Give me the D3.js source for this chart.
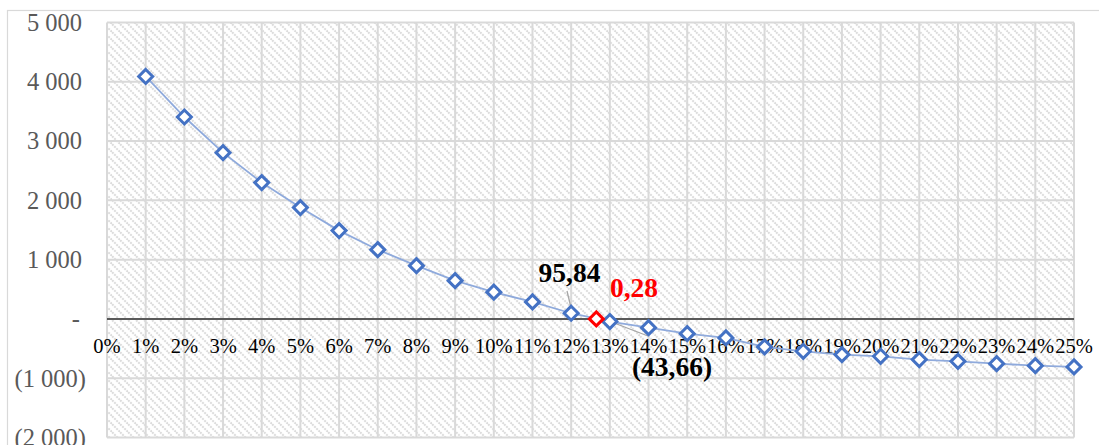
<!DOCTYPE html>
<html>
<head>
<meta charset="utf-8">
<script src="https://cdn.jsdelivr.net/npm/d3@7"></script>
<style>
  html, body { margin: 0; padding: 0; background: #fff; }
  svg { display: block; }
</style>
</head>
<body>
<svg id="chart" width="1099" height="445"></svg>
<script>
// ---- data ----
const rates = [1,2,3,4,5,6,7,8,9,10,11,12,13,14,15,16,17,18,19,20,21,22,23,24,25]; // %
const npv = [4090, 3406, 2805, 2300, 1878, 1490, 1168, 899, 646, 452, 287, 95.84, -43.66,
             -147, -248, -320, -472, -546, -602, -630, -686, -715, -754, -788, -809];
const irrPoint = [12.65, 0.28];
const xTickLabels = d3.range(0, 26).map(d => d + "%");
const yTicks = [5000, 4000, 3000, 2000, 1000, 0, -1000, -2000];
const labels = [
  {text: "95,84", color: "#000000"},
  {text: "(43,66)", color: "#000000"},
  {text: "0,28", color: "#FF0000"}
];

// ---- layout ----
const svg = d3.select("#chart");
const L = 107, R = 1074, T = 22.5, B = 437.5;
const x = d3.scaleLinear().domain([0, 25]).range([L, R]);
const y = d3.scaleLinear().domain([-2000, 5000]).range([B, T]);

// outer chart border
svg.append("rect").attr("x", 7.5).attr("y", 10.5).attr("width", 1200).attr("height", 600)
  .attr("fill", "#fff").attr("stroke", "#d9d9d9").attr("stroke-width", 1.2);

// hatch pattern
const defs = svg.append("defs");
const pat = defs.append("pattern").attr("id", "hatch").attr("patternUnits", "userSpaceOnUse")
  .attr("width", 8).attr("height", 8);
pat.append("rect").attr("width", 8).attr("height", 8).attr("fill", "#fff");
pat.append("path").attr("d", "M-2,-2 L10,10 M-2,6 L2,10 M6,-2 L10,2")
  .attr("stroke", "#dcdcdc").attr("stroke-width", 2).attr("stroke-dasharray", "2,1");

svg.append("rect").attr("x", L).attr("y", T).attr("width", R - L).attr("height", B - T)
  .attr("fill", "url(#hatch)");

// gridlines
const grid = svg.append("g");
grid.selectAll("line.v").data(d3.range(0, 26)).join("line")
  .attr("x1", d => x(d)).attr("x2", d => x(d)).attr("y1", T).attr("y2", B)
  .attr("stroke", "#d9d9d9").attr("stroke-width", 2);
grid.selectAll("line.h").data(yTicks).join("line")
  .attr("x1", L).attr("x2", R).attr("y1", d => y(d)).attr("y2", d => y(d))
  .attr("stroke", "#d9d9d9").attr("stroke-width", 2);

// zero line
svg.append("line").attr("x1", L).attr("x2", R).attr("y1", y(0)).attr("y2", y(0))
  .attr("stroke", "#595959").attr("stroke-width", 2);

// y axis labels
const fmtY = v => {
  if (v === 0) return "-";
  const s = d3.format(",")(Math.abs(v)).replace(/,/g, " ");
  return v < 0 ? "(" + s + ")" : s;
};
svg.append("g").selectAll("text").data(yTicks).join("text")
  .attr("x", d => d < 0 ? 86 : (d === 0 ? 80 : 82))
  .attr("y", d => y(d))
  .attr("dy", "0.34em")
  .attr("text-anchor", "end")
  .attr("font-family", "'Liberation Serif', 'Times New Roman', serif")
  .attr("font-size", 24.5)
  .attr("fill", "#595959")
  .text(fmtY);

// x axis labels
svg.append("g").selectAll("text").data(xTickLabels).join("text")
  .attr("x", (d, i) => x(i))
  .attr("y", 352.5)
  .attr("text-anchor", "middle")
  .attr("font-family", "'Liberation Serif', 'Times New Roman', serif")
  .attr("font-size", 20.5)
  .attr("fill", "#000")
  .text(d => d);

// series line
const pts = rates.map((r, i) => [r, npv[i]]);
svg.append("path").datum(pts)
  .attr("d", d3.line().x(d => x(d[0])).y(d => y(d[1])))
  .attr("fill", "none").attr("stroke", "#8faadc").attr("stroke-width", 1.8);

// leader lines
svg.append("line")
  .attr("x1", 567).attr("y1", 291).attr("x2", x(rates[11]) - 0.5).attr("y2", y(npv[11]) - 7)
  .attr("stroke", "#a6a6a6").attr("stroke-width", 1.3);
svg.append("line")
  .attr("x1", x(rates[12]) + 3).attr("y1", y(npv[12]) + 1).attr("x2", 648).attr("y2", 336)
  .attr("stroke", "#a6a6a6").attr("stroke-width", 1.3);

// markers
const diamond = d3.symbol().type(d3.symbolDiamond2).size(125);
svg.append("g").selectAll("path").data(pts).join("path")
  .attr("transform", d => `translate(${x(d[0])},${y(d[1])})`)
  .attr("d", diamond)
  .attr("fill", "#fff").attr("stroke", "#4472c4").attr("stroke-width", 3);

svg.append("path")
  .attr("transform", `translate(${x(irrPoint[0])},${y(irrPoint[1])})`)
  .attr("d", diamond)
  .attr("fill", "#fff").attr("stroke", "#ff0000").attr("stroke-width", 3);

// data labels
const labelPos = {"95,84": [569.5, 281.5], "(43,66)": [672, 376], "0,28": [634, 296.5]};
svg.append("g").selectAll("text").data(labels).join("text")
  .attr("x", d => labelPos[d.text][0])
  .attr("y", d => labelPos[d.text][1])
  .attr("text-anchor", "middle")
  .attr("font-family", "'Liberation Serif', 'Times New Roman', serif")
  .attr("font-weight", "bold")
  .attr("font-size", 27.5)
  .attr("fill", d => d.color)
  .text(d => d.text);
</script>
</body>
</html>
